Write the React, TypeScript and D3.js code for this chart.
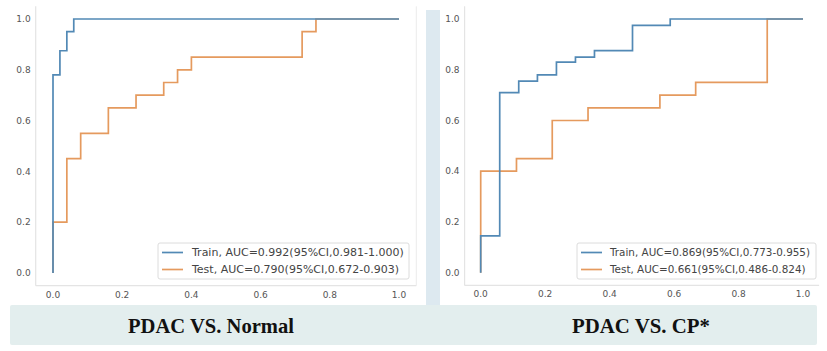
import React, { useRef, useEffect } from 'react';
import * as d3 from 'd3';

type Pt = [number, number];

// PDAC vs Normal
const normalTrain: Pt[] = [
  [0, 0], [0, 0.78], [0.02, 0.78], [0.02, 0.875], [0.04, 0.875], [0.04, 0.95],
  [0.06, 0.95], [0.06, 1.0], [1.0, 1.0],
];
const normalTest: Pt[] = [
  [0, 0], [0, 0.2], [0.04, 0.2], [0.04, 0.45], [0.08, 0.45], [0.08, 0.55],
  [0.16, 0.55], [0.16, 0.65], [0.24, 0.65], [0.24, 0.7], [0.32, 0.7], [0.32, 0.75],
  [0.36, 0.75], [0.36, 0.8], [0.4, 0.8], [0.4, 0.85], [0.72, 0.85], [0.72, 0.95],
  [0.76, 0.95], [0.76, 1.0], [1.0, 1.0],
];

// PDAC vs CP
const cpTrain: Pt[] = [
  [0, 0], [0, 0.145], [0.059, 0.145], [0.059, 0.71], [0.118, 0.71], [0.118, 0.755],
  [0.176, 0.755], [0.176, 0.78], [0.235, 0.78], [0.235, 0.83], [0.294, 0.83],
  [0.294, 0.85], [0.353, 0.85], [0.353, 0.875], [0.471, 0.875], [0.471, 0.975],
  [0.588, 0.975], [0.588, 1.0], [1.0, 1.0],
];
const cpTest: Pt[] = [
  [0, 0], [0, 0.4], [0.111, 0.4], [0.111, 0.45], [0.222, 0.45], [0.222, 0.6],
  [0.333, 0.6], [0.333, 0.65], [0.556, 0.65], [0.556, 0.7], [0.667, 0.7],
  [0.667, 0.75], [0.889, 0.75], [0.889, 1.0], [1.0, 1.0],
];

const tickValues = [0, 0.2, 0.4, 0.6, 0.8, 1.0];
const legendNormal = ['Train, AUC=0.992(95%CI,0.981-1.000)', 'Test, AUC=0.790(95%CI,0.672-0.903)'];
const legendCP = ['Train, AUC=0.869(95%CI,0.773-0.955)', 'Test, AUC=0.661(95%CI,0.486-0.824)'];
const titles = ['PDAC VS. Normal', 'PDAC VS. CP*'];

const BLUE = '#5289b5';
const ORANGE = '#e59a5e';

interface PanelCfg {
  x0: number; x1: number; y0: number; y1: number; // pixel of data 0 and 1
  train: Pt[]; test: Pt[]; legend: string[];
  legendBox: [number, number, number, number];
  legendTextX: number; legendFont: number;
}

const panels: PanelCfg[] = [
  {
    x0: 53, x1: 399, y0: 273, y1: 19,
    train: normalTrain, test: normalTest, legend: legendNormal,
    legendBox: [158, 243, 251, 36], legendTextX: 192, legendFont: 11,
  },
  {
    x0: 480.7, x1: 803, y0: 272.7, y1: 19,
    train: cpTrain, test: cpTest, legend: legendCP,
    legendBox: [577, 243, 239, 36], legendTextX: 610, legendFont: 10.4,
  },
];

const App: React.FC = () => {
  const svgRef = useRef<SVGSVGElement | null>(null);

  useEffect(() => {
    if (!svgRef.current) return;
    const svg = d3.select(svgRef.current);
    svg.selectAll('*').remove();

    svg.append('rect').attr('width', 827).attr('height', 351).attr('fill', '#ffffff');

    // light blue gap between the two figures
    svg.append('rect').attr('x', 426).attr('y', 10).attr('width', 14).attr('height', 296).attr('fill', '#dde9f0');

    // bottom banner
    svg.append('rect').attr('x', 10).attr('y', 305).attr('width', 807).attr('height', 40)
      .attr('rx', 2).attr('fill', '#e3eeee');

    panels.forEach((p, pi) => {
      const x = d3.scaleLinear().domain([0, 1]).range([p.x0, p.x1]);
      const y = d3.scaleLinear().domain([0, 1]).range([p.y0, p.y1]);
      const g = svg.append('g');

      const left = x(-0.05), right = x(1.05), top = y(1.05), bottom = y(-0.05);

      // spines
      g.append('line').attr('x1', left).attr('x2', left).attr('y1', top).attr('y2', bottom)
        .attr('stroke', '#e4e4e4').attr('stroke-width', 1.2);
      g.append('line').attr('x1', left).attr('x2', right).attr('y1', bottom).attr('y2', bottom)
        .attr('stroke', '#e4e4e4').attr('stroke-width', 1.2);
      if (pi === 0) {
        g.append('line').attr('x1', right).attr('x2', right).attr('y1', top).attr('y2', bottom)
          .attr('stroke', '#ececec').attr('stroke-width', 1);
      }

      // ticks
      g.selectAll('.yt').data(tickValues).enter().append('text')
        .attr('x', left - 5).attr('y', d => y(d)).attr('dy', '0.35em')
        .attr('text-anchor', 'end').attr('font-family', 'DejaVu Sans').attr('font-size', 9)
        .attr('fill', '#555').text(d => d.toFixed(1));
      g.selectAll('.xt').data(tickValues).enter().append('text')
        .attr('x', d => x(d)).attr('y', bottom + 12)
        .attr('text-anchor', 'middle').attr('font-family', 'DejaVu Sans').attr('font-size', 9)
        .attr('fill', '#555').text(d => d.toFixed(1));

      const line = d3.line<Pt>().x(d => x(d[0])).y(d => y(d[1]));
      g.append('path').attr('d', line(p.test) ?? '').attr('fill', 'none')
        .attr('stroke', ORANGE).attr('stroke-width', 1.7);
      g.append('path').attr('d', line(p.train) ?? '').attr('fill', 'none')
        .attr('stroke', BLUE).attr('stroke-width', 1.7);

      // legend
      const [lx, ly, lw, lh] = p.legendBox;
      g.append('rect').attr('x', lx).attr('y', ly).attr('width', lw).attr('height', lh)
        .attr('rx', 2).attr('fill', '#fff').attr('stroke', '#dcdcdc').attr('stroke-width', 1);
      [BLUE, ORANGE].forEach((c, i) => {
        const yy = ly + 9.5 + i * 17;
        g.append('line').attr('x1', lx + 4).attr('x2', lx + 25).attr('y1', yy).attr('y2', yy)
          .attr('stroke', c).attr('stroke-width', 1.7);
        g.append('text').attr('x', p.legendTextX).attr('y', yy).attr('dy', '0.36em')
          .attr('font-family', 'DejaVu Sans').attr('font-size', p.legendFont).attr('fill', '#444')
          .text(p.legend[i]);
      });
    });

    // banner titles
    const titleX = [211, 641];
    const titleW = [166, 138];
    titles.forEach((t, i) => {
      svg.append('text').attr('x', titleX[i] - titleW[i] / 2).attr('y', 333)
        .attr('font-family', 'Liberation Serif').attr('font-weight', 'bold').attr('font-size', 21)
        .attr('fill', '#111').attr('textLength', titleW[i]).attr('lengthAdjust', 'spacingAndGlyphs')
        .text(t);
    });
  }, []);

  return (
    <div style={{ position: 'absolute', left: 0, top: 0 }}>
      <svg ref={svgRef} width={827} height={351} style={{ display: 'block' }} />
    </div>
  );
};

export default App;
